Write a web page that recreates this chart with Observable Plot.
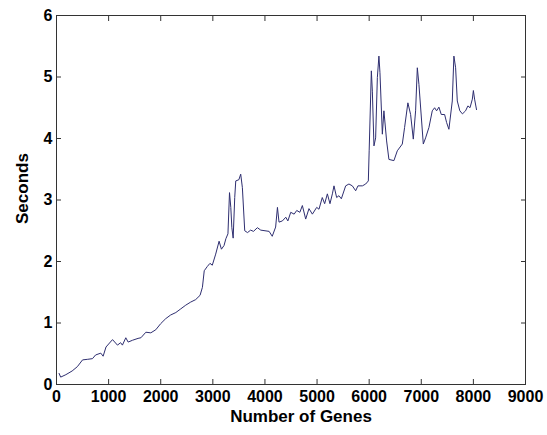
<!DOCTYPE html>
<html>
<head>
<meta charset="utf-8">
<script src="https://cdn.jsdelivr.net/npm/d3@7"></script>
<script src="https://cdn.jsdelivr.net/npm/@observablehq/plot@0.6"></script>
<style>
  html, body { margin: 0; padding: 0; background: #fff; }
</style>
</head>
<body>
<div id="chart"></div>
<script>
const genes = [50, 80, 180, 300, 400, 500, 600, 690, 750, 850, 895, 950, 1075, 1170, 1230, 1265, 1330, 1375, 1460, 1565, 1620, 1715, 1810, 1905, 2000, 2095, 2190, 2290, 2385, 2480, 2575, 2670, 2755, 2800, 2835, 2895, 2945, 2990, 3055, 3120, 3165, 3215, 3250, 3290, 3320, 3345, 3365, 3390, 3420, 3440, 3500, 3535, 3567, 3612, 3665, 3725, 3780, 3855, 3920, 4080, 4140, 4205, 4240, 4270, 4335, 4400, 4440, 4495, 4560, 4610, 4670, 4718, 4782, 4845, 4910, 4993, 5037, 5100, 5146, 5198, 5248, 5294, 5325, 5376, 5420, 5466, 5549, 5612, 5677, 5741, 5785, 5870, 5933, 5984, 6000, 6042, 6061, 6092, 6124, 6157, 6187, 6207, 6253, 6283, 6335, 6379, 6475, 6540, 6636, 6680, 6743, 6795, 6847, 6891, 6924, 6955, 7039, 7083, 7147, 7211, 7256, 7294, 7338, 7384, 7448, 7486, 7530, 7595, 7626, 7659, 7691, 7740, 7790, 7850, 7895, 7935, 7980, 8000, 8023, 8060];
const seconds = [0.18, 0.12, 0.16, 0.22, 0.29, 0.40, 0.41, 0.42, 0.48, 0.51, 0.46, 0.61, 0.73, 0.64, 0.68, 0.64, 0.76, 0.69, 0.72, 0.75, 0.76, 0.85, 0.84, 0.89, 0.99, 1.07, 1.13, 1.17, 1.23, 1.29, 1.34, 1.38, 1.45, 1.58, 1.85, 1.92, 1.97, 1.94, 2.12, 2.33, 2.20, 2.26, 2.37, 2.45, 3.12, 2.88, 2.55, 2.38, 3.04, 3.31, 3.33, 3.42, 3.20, 2.50, 2.47, 2.51, 2.49, 2.55, 2.51, 2.49, 2.41, 2.56, 2.88, 2.64, 2.66, 2.72, 2.66, 2.80, 2.77, 2.83, 2.80, 2.91, 2.69, 2.86, 2.77, 2.88, 2.85, 3.04, 2.94, 3.10, 2.94, 3.10, 3.23, 3.04, 3.07, 3.02, 3.23, 3.26, 3.23, 3.15, 3.23, 3.23, 3.26, 3.31, 3.80, 5.10, 4.77, 3.88, 4.01, 4.99, 5.34, 5.07, 4.07, 4.45, 3.96, 3.66, 3.64, 3.80, 3.91, 4.18, 4.58, 4.39, 3.99, 4.45, 5.15, 4.88, 3.91, 4.01, 4.18, 4.45, 4.50, 4.45, 4.51, 4.39, 4.39, 4.26, 4.15, 4.61, 5.34, 5.15, 4.61, 4.45, 4.40, 4.45, 4.53, 4.50, 4.64, 4.78, 4.64, 4.47];
const xTicks = [0, 1000, 2000, 3000, 4000, 5000, 6000, 7000, 8000, 9000];
const yTicks = [0, 1, 2, 3, 4, 5, 6];
const xLabel = "Number of Genes";
const yLabel = "Seconds";

const data = genes.map((g, i) => ({genes: g, seconds: seconds[i]}));
const fmt = d3.format("d");

const chart = Plot.plot({
  width: 547,
  height: 435,
  marginLeft: 56,
  marginTop: 15,
  marginRight: 22,
  marginBottom: 51,
  x: {domain: [0, 9000], ticks: xTicks},
  y: {domain: [0, 6], ticks: yTicks},
  style: {fontFamily: "'Liberation Sans', Arial, sans-serif", fontSize: "16px", fontWeight: "bold", color: "#000", background: "#fff"},
  marks: [
    Plot.line(data, {x: "genes", y: "seconds", stroke: "#2e2e70", strokeWidth: 1}),
    Plot.axisX({ticks: xTicks, anchor: "bottom", tickSize: -5, tickPadding: 11, tickFormat: fmt, label: null, stroke: "#333", fill: "#000"}),
    Plot.axisX({ticks: xTicks, anchor: "top", tickSize: -5, tickFormat: () => "", label: null, stroke: "#333"}),
    Plot.axisY({ticks: yTicks, anchor: "left", tickSize: -5, tickPadding: 9, tickFormat: fmt, label: null, stroke: "#333", fill: "#000"}),
    Plot.axisY({ticks: yTicks, anchor: "right", tickSize: -5, tickFormat: () => "", label: null, stroke: "#333"}),
    Plot.frame({stroke: "#333", strokeWidth: 1}),
    Plot.text([xLabel], {text: d => d, frameAnchor: "bottom", dy: 37, dx: 10, fontSize: 17, fontWeight: "bold", fill: "#000"}),
    Plot.text([yLabel], {text: d => d, frameAnchor: "left", rotate: -90, dx: -34, dy: 24, fontSize: 17, fontWeight: "bold", fill: "#000"})
  ]
});
document.getElementById("chart").appendChild(chart);
</script>
</body>
</html>
